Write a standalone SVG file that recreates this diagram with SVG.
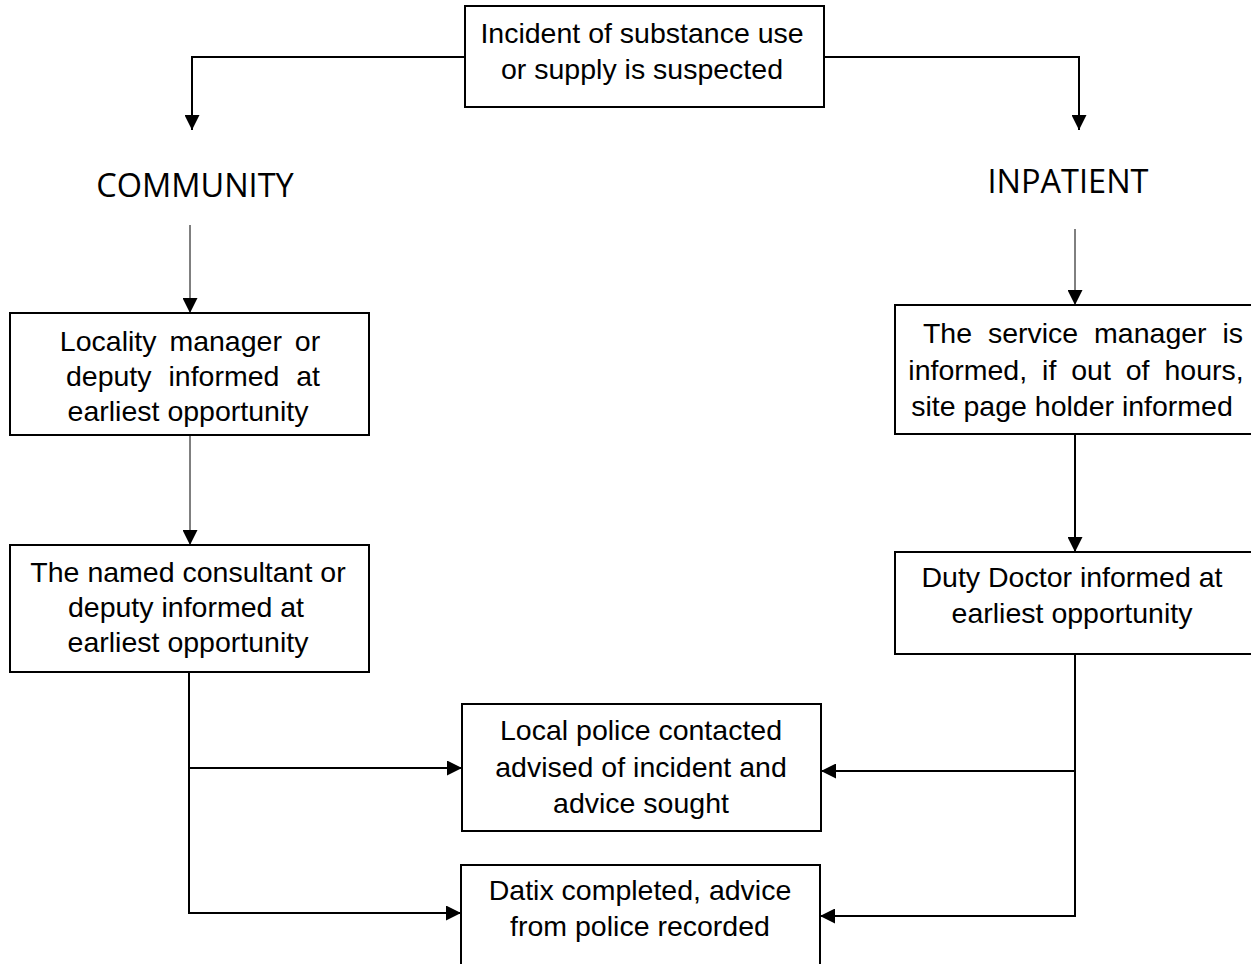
<svg xmlns="http://www.w3.org/2000/svg" width="1251" height="964" viewBox="0 0 1251 964">
<style>
.box{fill:#fff;stroke:#000;stroke-width:2}
.t{font-family:"Liberation Sans",Arial,sans-serif;font-size:28.5px;fill:#000;text-anchor:middle}
.h{font-family:"Open Sans","Liberation Sans",sans-serif;font-size:32.5px;fill:#000;text-anchor:middle}
.c{fill:none;stroke:#000;stroke-width:2}
.thin{fill:none;stroke:#000;stroke-width:1}
</style>
<defs>
<marker id="ah" viewBox="0 0 15 15" refX="15" refY="7.5" markerWidth="15" markerHeight="15" markerUnits="userSpaceOnUse" orient="auto">
<path d="M0,0 L15,7.5 L0,15 z" fill="#000"/>
</marker>
</defs>
<rect width="1251" height="964" fill="#fff"/>
<g id="connectors">
<path class="c" d="M465,57 H192 V130" marker-end="url(#ah)"/>
<path class="c" d="M824,57 H1079 V130" marker-end="url(#ah)"/>
<path class="thin" d="M190,225 V313" marker-end="url(#ah)"/>
<path class="thin" d="M190,435 V545" marker-end="url(#ah)"/>
<path class="thin" d="M1075,229 V305" marker-end="url(#ah)"/>
<path class="c" d="M1075,434 V552" marker-end="url(#ah)"/>
<path class="c" d="M189,673 V913 H461" marker-end="url(#ah)"/>
<path class="c" d="M189,768 H462" marker-end="url(#ah)"/>
<path class="c" d="M1075,654 V916 H820" marker-end="url(#ah)"/>
<path class="c" d="M1075,771 H821" marker-end="url(#ah)"/>
</g>
<g id="incident">
<rect class="box" x="465" y="6" width="359" height="101"/>
<text class="t" x="642" y="43">Incident of substance use</text>
<text class="t" x="642" y="79">or supply is suspected</text>
</g>
<g id="community">
<text class="h" x="195" y="197">COMMUNITY</text>
</g>
<g id="inpatient">
<text class="h" x="1068" y="193">INPATIENT</text>
</g>
<g id="locality">
<rect class="box" x="10" y="313" width="359" height="122"/>
<text class="t" x="190" y="351" word-spacing="5">Locality manager or</text>
<text class="t" x="193" y="386" word-spacing="9">deputy informed at</text>
<text class="t" x="188" y="421">earliest opportunity</text>
</g>
<g id="consultant">
<rect class="box" x="10" y="545" width="359" height="127"/>
<text class="t" x="188" y="582">The named consultant or</text>
<text class="t" x="186" y="617">deputy informed at</text>
<text class="t" x="188" y="652">earliest opportunity</text>
</g>
<g id="service">
<rect class="box" x="895" y="305" width="370" height="129"/>
<text class="t" x="1083" y="343" word-spacing="8">The service manager is</text>
<text class="t" x="1076" y="380" word-spacing="7">informed, if out of hours,</text>
<text class="t" x="1072" y="416">site page holder informed</text>
</g>
<g id="duty">
<rect class="box" x="895" y="552" width="370" height="102"/>
<text class="t" x="1072" y="587">Duty Doctor informed at</text>
<text class="t" x="1072" y="623">earliest opportunity</text>
</g>
<g id="police">
<rect class="box" x="462" y="704" width="359" height="127"/>
<text class="t" x="641" y="740">Local police contacted</text>
<text class="t" x="641" y="777">advised of incident and</text>
<text class="t" x="641" y="813">advice sought</text>
</g>
<g id="datix">
<rect class="box" x="461" y="865" width="359" height="110"/>
<text class="t" x="640" y="900">Datix completed, advice</text>
<text class="t" x="640" y="936">from police recorded</text>
</g>
</svg>
